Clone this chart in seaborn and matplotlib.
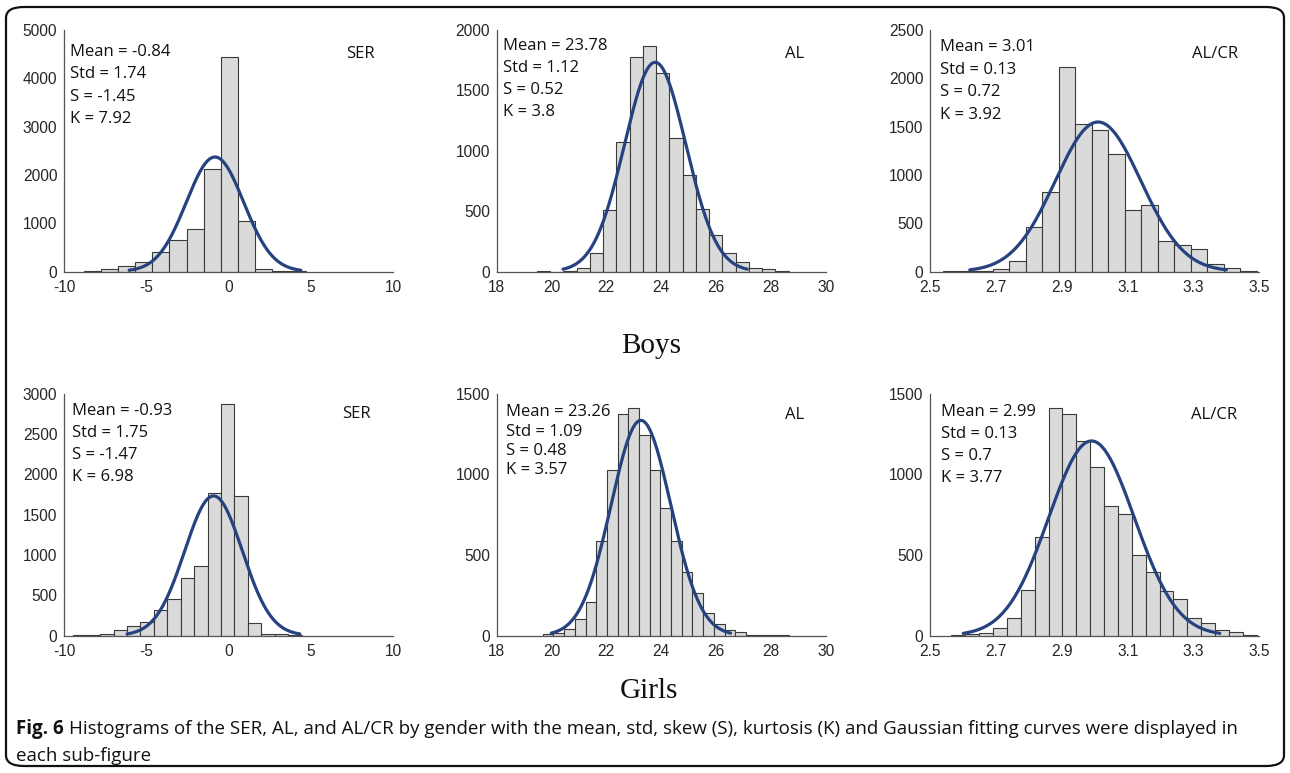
import numpy as np
import pandas as pd
import seaborn as sns
import matplotlib.pyplot as plt
from matplotlib.patches import FancyBboxPatch

sns.set_theme(style="white")
plt.rcParams["font.family"] = ["Liberation Sans", "DejaVu Sans"]

# ---- histogram data: first bin edge, bin width, counts per bin ----
boys_ser_start, boys_ser_width = -8.78, 1.035
boys_ser_counts = [14, 48, 117, 200, 407, 648, 876, 2124, 4434, 1055, 48, 15, 5]

boys_al_start, boys_al_width = 19.47, 0.483
boys_al_counts = [3, 0, 8, 28, 152, 512, 1070, 1776, 1867, 1646, 1106, 797,
                  517, 304, 152, 77, 33, 17, 5]

boys_alcr_start, boys_alcr_width = 2.539, 0.0502
boys_alcr_counts = [3, 5, 10, 24, 111, 458, 826, 2118, 1531, 1469, 1215, 639,
                    684, 319, 278, 236, 76, 35, 10]

girls_ser_start, girls_ser_width = -9.46, 0.817
girls_ser_counts = [4, 6, 22, 65, 118, 170, 318, 452, 715, 868, 1768, 2872,
                    1735, 150, 22, 20, 6]

girls_al_start, girls_al_width = 19.68, 0.39
girls_al_counts = [10, 17, 42, 100, 210, 585, 1026, 1375, 1410, 1248, 1026, 790,
                   585, 397, 266, 137, 69, 33, 21, 6, 3, 3, 2]

girls_alcr_start, girls_alcr_width = 2.564, 0.0422
girls_alcr_counts = [3, 8, 17, 44, 110, 281, 610, 1415, 1375, 1209, 1046, 807,
                     755, 499, 395, 277, 225, 110, 79, 37, 23, 6]

# ---- summary statistics printed in each panel ----
stats_mean = [-0.84, 23.78, 3.01, -0.93, 23.26, 2.99]
stats_std = [1.74, 1.12, 0.13, 1.75, 1.09, 0.13]
stats_skew = ["-1.45", "0.52", "0.72", "-1.47", "0.48", "0.7"]
stats_kurt = ["7.92", "3.8", "3.92", "6.98", "3.57", "3.77"]
stats_mean_txt = ["-0.84", "23.78", "3.01", "-0.93", "23.26", "2.99"]
stats_std_txt = ["1.74", "1.12", "0.13", "1.75", "1.09", "0.13"]

panel_names = ["SER", "AL", "AL/CR", "SER", "AL", "AL/CR"]

x_ticks_ser = [-10, -5, 0, 5, 10]
x_ticks_al = [18, 20, 22, 24, 26, 28, 30]
x_ticks_alcr = [2.5, 2.7, 2.9, 3.1, 3.3, 3.5]
y_ticks = [
    [0, 1000, 2000, 3000, 4000, 5000],
    [0, 500, 1000, 1500, 2000],
    [0, 500, 1000, 1500, 2000, 2500],
    [0, 500, 1000, 1500, 2000, 2500, 3000],
    [0, 500, 1000, 1500],
    [0, 500, 1000, 1500],
]

hists = [
    (boys_ser_start, boys_ser_width, boys_ser_counts, x_ticks_ser),
    (boys_al_start, boys_al_width, boys_al_counts, x_ticks_al),
    (boys_alcr_start, boys_alcr_width, boys_alcr_counts, x_ticks_alcr),
    (girls_ser_start, girls_ser_width, girls_ser_counts, x_ticks_ser),
    (girls_al_start, girls_al_width, girls_al_counts, x_ticks_al),
    (girls_alcr_start, girls_alcr_width, girls_alcr_counts, x_ticks_alcr),
]

W, H = 1290, 773
fig = plt.figure(figsize=(W / 100, H / 100), dpi=100)

# axes boxes in pixels: left, top, width, height
col_left = [64.3, 496.7, 930.3]
row_top = [30.0, 394.0]
ax_w, ax_h = 329.0, 241.5

# stats text: left offset, first-line centre below axes top, line step (pixels)
stats_layout = [(5.5, 20.0, 22.3), (6.0, 13.5, 22.3), (9.5, 15.0, 22.7),
                (8.0, 15.0, 22.0), (9.0, 16.5, 19.3), (11.0, 16.5, 22.0)]
name_pos = [(296, 22), (298, 22), (285, 22), (292, 18), (298, 19), (284, 19)]

curve_color = "#26427f"
label_font = ["Open Sans", "DejaVu Sans"]
cap_half = 6.0  # half cap-height of the 12 pt label font, in pixels

for i, (start, width, counts, xt) in enumerate(hists):
    r, c = divmod(i, 3)
    left = col_left[c] / W
    bottom = 1 - (row_top[r] + ax_h) / H
    ax = fig.add_axes([left, bottom, ax_w / W, ax_h / H])

    counts = np.asarray(counts, dtype=float)
    nb = len(counts)
    lo, hi = start, start + width * nb
    centers = start + width * (np.arange(nb) + 0.5)
    df = pd.DataFrame({"x": centers, "n": counts})
    sns.histplot(data=df, x="x", weights="n", binwidth=width, binrange=(lo, hi),
                 ax=ax, color="#dadada", edgecolor="#3a3a3a", linewidth=0.8,
                 alpha=1.0)

    # Gaussian fit over mean +/- 3 std, scaled to the histogram area
    mu, sd = stats_mean[i], stats_std[i]
    xs = np.linspace(mu - 3 * sd, mu + 3 * sd, 300)
    area = counts.sum() * width
    ys = area / (sd * np.sqrt(2 * np.pi)) * np.exp(-0.5 * ((xs - mu) / sd) ** 2)
    sns.lineplot(x=xs, y=ys, ax=ax, color=curve_color, linewidth=2.3)

    ax.set_xlim(xt[0], xt[-1])
    ax.set_ylim(0, y_ticks[i][-1])
    ax.set_xticks(xt)
    ax.set_yticks(y_ticks[i])
    ax.set_xticklabels([f"{v:g}" for v in xt])
    ax.set_xlabel("")
    ax.set_ylabel("")
    ax.tick_params(direction="in", length=4, width=0.8, color="#555555",
                   labelsize=11.2, labelcolor="#262626", pad=5)
    ax.tick_params(axis="x", pad=6)
    for s in ["top", "right"]:
        ax.spines[s].set_visible(False)
    for s in ["left", "bottom"]:
        ax.spines[s].set_color("#555555")
        ax.spines[s].set_linewidth(0.9)
    ax.patch.set_alpha(0)

    dx, y0, step = stats_layout[i]
    lines = [f"Mean = {stats_mean_txt[i]}", f"Std = {stats_std_txt[i]}",
             f"S = {stats_skew[i]}", f"K = {stats_kurt[i]}"]
    for k, line in enumerate(lines):
        yb = y0 + k * step + cap_half
        ax.text(dx / ax_w, 1 - yb / ax_h, line, transform=ax.transAxes,
                ha="left", va="baseline", fontsize=12, family=label_font,
                color="#111111")
    nx, ny = name_pos[i]
    ax.text(nx / ax_w, 1 - (ny + cap_half) / ax_h, panel_names[i],
            transform=ax.transAxes, ha="center", va="baseline", fontsize=12,
            family=label_font, color="#111111")

# group titles
fig.text(651 / W, 1 - 346 / H, "Boys", ha="center", va="center",
         fontsize=21, family=["Liberation Serif", "DejaVu Serif"], color="#111111")
fig.text(649 / W, 1 - 691 / H, "Girls", ha="center", va="center",
         fontsize=21, family=["Liberation Serif", "DejaVu Serif"], color="#111111")

# caption
cap_font = ["Open Sans", "DejaVu Sans"]
cap_size = 13.5
t1 = fig.text(16 / W, 1 - 729 / H, "Fig. 6", ha="left", va="center",
              fontsize=cap_size, fontweight="bold", family=cap_font, color="#111111")
fig.canvas.draw()
bb = t1.get_window_extent(renderer=fig.canvas.get_renderer())
fig.text((bb.x1 + 5) / W, 1 - 729 / H,
         "Histograms of the SER, AL, and AL/CR by gender with the mean, std, skew (S), "
         "kurtosis (K) and Gaussian fitting curves were displayed in",
         ha="left", va="center", fontsize=cap_size, family=cap_font, color="#111111")
fig.text(16 / W, 1 - 756 / H, "each sub-figure", ha="left", va="center",
         fontsize=cap_size, family=cap_font, color="#111111")

# rounded outer frame
frame = FancyBboxPatch((6 / W, 7 / H), (W - 12) / W, (H - 14) / H,
                       boxstyle="round,pad=0,rounding_size=0.014",
                       transform=fig.transFigure, fill=False,
                       edgecolor="#111111", linewidth=1.6)
fig.patches.append(frame)

fig.savefig("out.png", dpi=100)
